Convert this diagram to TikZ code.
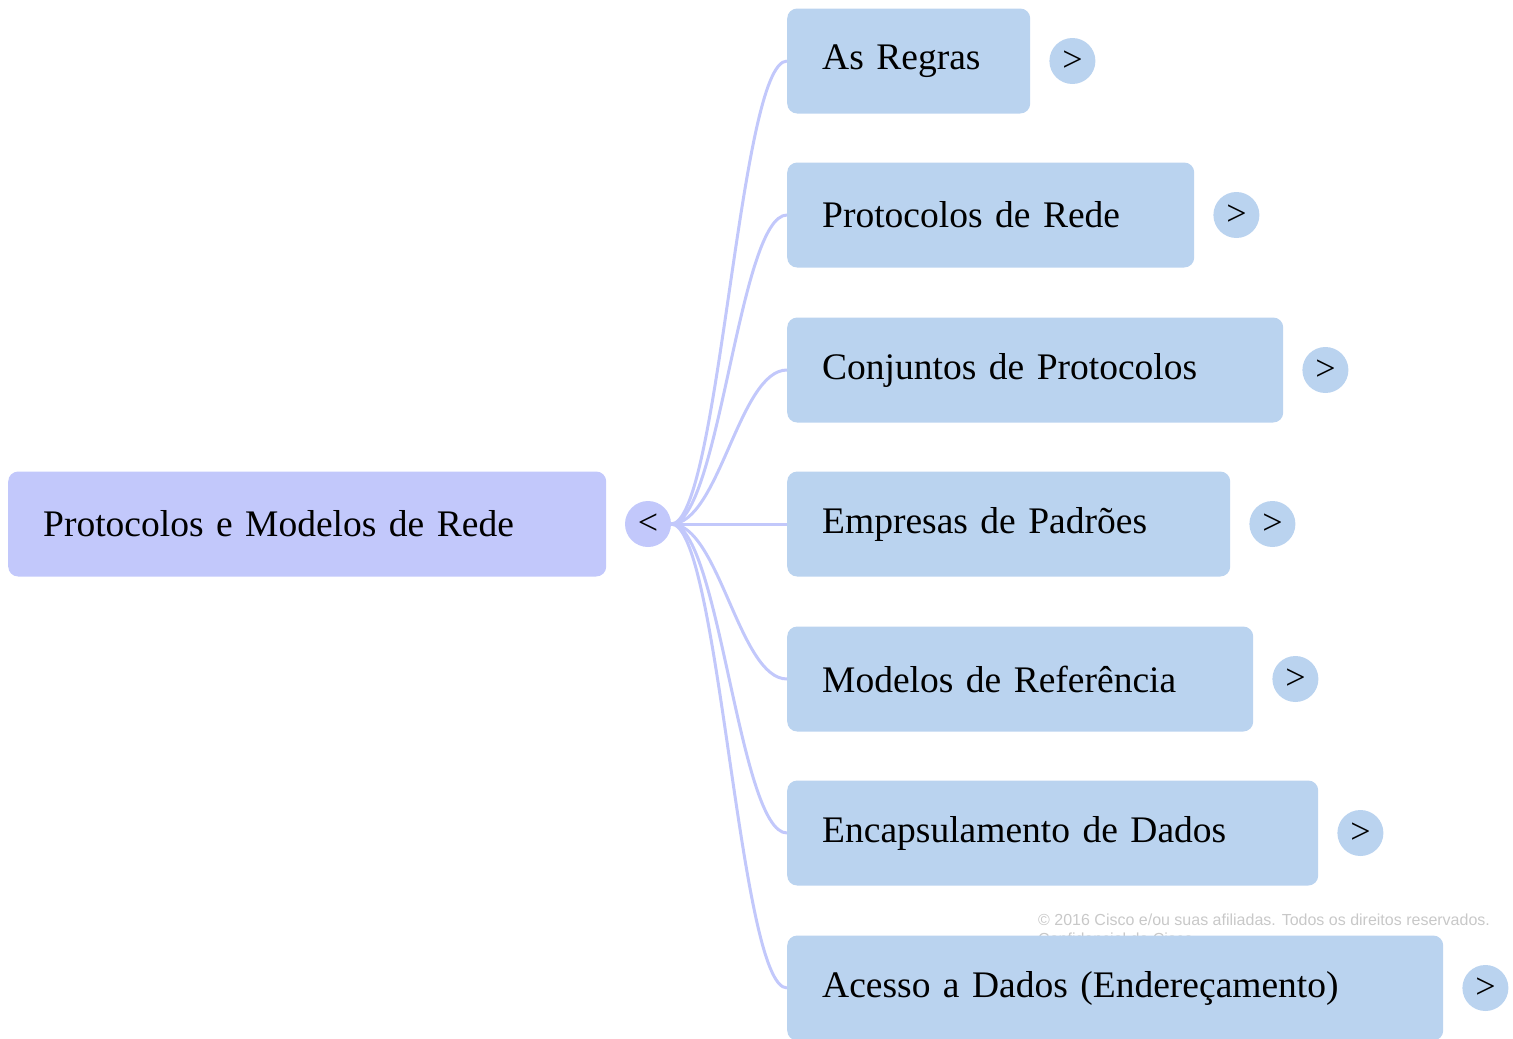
\documentclass[tikz,border=0pt]{standalone}
\usepackage{fontspec}
\setmainfont{Liberation Serif}
\newfontfamily\notefont{Liberation Sans}
\definecolor{rootfill}{HTML}{C2C8FB}
\definecolor{leaffill}{HTML}{BAD3EF}
\definecolor{notegray}{HTML}{C8C8C8}
\tikzset{
  topicbox/.style={fill=#1, rounded corners=10pt, anchor=west, minimum height=105pt,
    inner xsep=35pt, align=left, font=\fontsize{37.5}{42}\selectfont},
  togglebtn/.style={circle, fill=#1, minimum size=46pt, inner sep=0pt,
    font=\fontsize{36}{40}\selectfont},
  branch/.style={draw=rootfill, line width=3pt},
}
\begin{document}
\begin{tikzpicture}
[x=1pt, y=-1pt]
\useasboundingbox (0,0) rectangle (1513,1039);
% copyright note, half hidden by the last topic
\node[anchor=north west, align=left, text=notegray, inner sep=0pt,
  font=\notefont\fontsize{16}{19}\selectfont] (note) at (1038,914)
  {\textcopyright{} 2016 Cisco e/ou suas afiliadas. Todos os direitos reservados.\\ Confidencial da Cisco};
% central topic
\node[topicbox=rootfill, text width=528pt] (main) at (8,524) {Protocolos e Modelos de Rede};
\node[togglebtn=rootfill] (cc) at (648,524) {<};
% subtopics
\foreach \n/\y/\w/\t in {r/61/173/As Regras,
                         p/215/337/Protocolos de Rede,
                         c/370/426/Conjuntos de Protocolos,
                         e/524/373/Empresas de Padrões,
                         m/679/396/Modelos de Referência,
                         d/833/461/Encapsulamento de Dados,
                         a/988/586/Acesso a Dados (Endereçamento)}
{
  \node[topicbox=leaffill, text width=\w pt] (t\n) at (787,\y) {\t};
  \node[togglebtn=leaffill] (b\n) at ([xshift=42pt]t\n.east) {>};
}
\foreach \n in {r,p,c,m,d,a}
  \draw[branch] (cc.east) .. controls +(48,0) and +(-48,0) .. (t\n.west);
\draw[branch] (cc.east) -- (te.west);
\end{tikzpicture}
\end{document}
